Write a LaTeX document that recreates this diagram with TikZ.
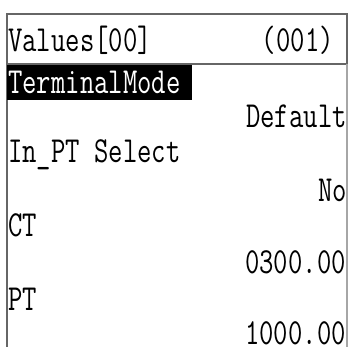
\documentclass[tikz,border=0pt]{standalone}
\usepackage{fontspec}
\setmonofont{Latin Modern Mono}[FakeStretch=0.76]
\begin{document}
\begin{tikzpicture}[x=1pt,y=-1pt,
  lcd/.style={font=\ttfamily\fontsize{36.7}{36.7}\selectfont, inner sep=0pt, text=black},
  lbl/.style={lcd, anchor=base west},
  val/.style={lcd, anchor=base east},
  frame/.style={draw=black!60, line width=1.1pt}]
  \useasboundingbox (0,0) rectangle (356,347);
  % title bar
  \draw[frame] (7,14) rectangle (347,64);
  \node[lbl] (title) at (8,52) {Values[00]};
  \node[val] (count) at (334,52) {(001)};
  % list frame
  \draw[frame] (7,64) -- (7,347);
  \draw[draw=black!35, line width=1.1pt] (347,64) -- (347,347);
  % selected row
  \fill[black] (7,65) rectangle (192,100);
  \node[lbl, text=white] (mode) at (8,94) {TerminalMode};
  \node[val] (modev) at (347,128) {Default};
  \node[lbl] (inpt) at (8,163) {In\_PT Select};
  \node[val] (inptv) at (347,202) {No};
  \node[lbl] (ct) at (8,237) {CT};
  \node[val] (ctv) at (346,274) {0300.00};
  \node[lbl] (pt) at (8,311) {PT};
  \node[val] (ptv) at (346,344) {1000.00};
\end{tikzpicture}
\end{document}
